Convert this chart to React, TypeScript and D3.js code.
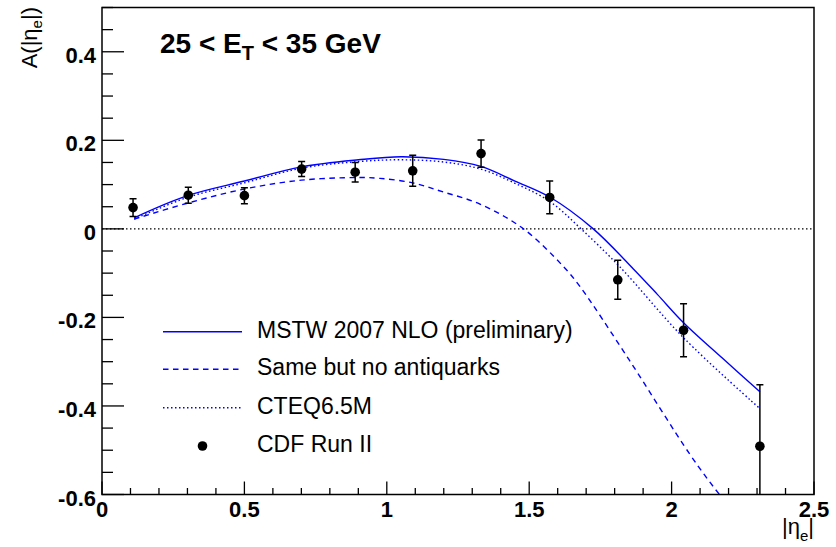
import React from 'react';
import * as d3 from 'd3';

const W = 836;
const H = 547;
const FRAME = { left: 102, right: 814, top: 7.5, bottom: 494.5 };
const FONT = "'Liberation Sans', Arial, Helvetica, sans-serif";

// CDF Run II electron charge asymmetry
const cdfEta = [0.109, 0.303, 0.5, 0.701, 0.889, 1.091, 1.331, 1.572, 1.811, 2.042, 2.31];
const cdfAsym = [0.048, 0.076, 0.075, 0.135, 0.128, 0.131, 0.17, 0.071, -0.115, -0.229, -0.491];
const cdfErr = [0.02, 0.018, 0.018, 0.017, 0.022, 0.035, 0.031, 0.037, 0.044, 0.06, 0.139];

// MSTW 2007 NLO prediction
const mstwEta = [0.113, 0.3, 0.5, 0.7, 0.9, 1.05, 1.2, 1.33, 1.45, 1.572, 1.725, 1.865, 1.95, 2.042, 2.18, 2.31];
const mstwAsym = [0.025, 0.075, 0.108, 0.14, 0.156, 0.163, 0.157, 0.141, 0.108, 0.072, 0.0, -0.09, -0.148, -0.212, -0.293, -0.368];

// Same, without antiquarks
const noAqEta = [0.113, 0.3, 0.5, 0.7, 0.9, 0.976, 1.09, 1.2, 1.327, 1.48, 1.62, 1.678, 1.85, 2.065, 2.168, 2.31];
const noAqAsym = [0.022, 0.058, 0.09, 0.11, 0.116, 0.114, 0.104, 0.083, 0.056, 0.0, -0.085, -0.13, -0.295, -0.51, -0.6, -0.71];

// CTEQ6.5M prediction
const cteqEta = [0.113, 0.3, 0.5, 0.7, 0.9, 1.05, 1.2, 1.33, 1.45, 1.572, 1.682, 1.82, 2.042, 2.31];
const cteqAsym = [0.022, 0.071, 0.104, 0.137, 0.152, 0.156, 0.151, 0.135, 0.103, 0.062, 0.0, -0.087, -0.246, -0.406];

const xMajor = [0, 0.5, 1, 1.5, 2, 2.5];
const xMajorLabels = ['0', '0.5', '1', '1.5', '2', '2.5'];
const yMajor = [-0.6, -0.4, -0.2, 0, 0.2, 0.4];
const yMajorLabels = ['-0.6', '-0.4', '-0.2', '0', '0.2', '0.4'];

const legendLabels = ['MSTW 2007 NLO (preliminary)', 'Same but no antiquarks', 'CTEQ6.5M', 'CDF Run II'];

const BLUE = '#0000ff';

export default function App() {
  const x = d3.scaleLinear().domain([0, 2.5]).range([FRAME.left, FRAME.right]);
  const y = d3.scaleLinear().domain([-0.6, 0.5]).range([FRAME.bottom, FRAME.top]);

  const lineGen = d3
    .line<[number, number]>()
    .x((d) => x(d[0]))
    .y((d) => y(d[1]))
    .curve(d3.curveCatmullRom.alpha(0.5));

  const zip = (a: number[], b: number[]) => a.map((v, i) => [v, b[i]] as [number, number]);

  const xMinor = d3.range(0, 2.5001, 0.1).filter((v) => Math.abs(v / 0.5 - Math.round(v / 0.5)) > 1e-6);
  const yMinor = d3.range(-0.6, 0.5001, 0.05).filter((v) => Math.abs(v / 0.2 - Math.round(v / 0.2)) > 1e-6);

  const legendRows = [331.7, 369.3, 407.7, 446];
  const legX0 = 163;
  const legX1 = 242;
  const legTextX = 257;

  return (
    <svg
      width={W}
      height={H}
      viewBox={`0 0 ${W} ${H}`}
      style={{ position: 'absolute', left: 0, top: 0, background: '#fff' }}
      fontFamily={FONT}
    >
      <defs>
        <clipPath id="frameClip">
          <rect x={FRAME.left} y={FRAME.top} width={FRAME.right - FRAME.left} height={FRAME.bottom - FRAME.top} />
        </clipPath>
      </defs>
      <rect x={0} y={0} width={W} height={H} fill="#fff" />

      {/* zero reference line */}
      <line
        x1={FRAME.left}
        x2={FRAME.right}
        y1={y(0)}
        y2={y(0)}
        stroke="#000"
        strokeWidth={1.3}
        strokeDasharray="1.5,2.5"
      />

      <g clipPath="url(#frameClip)" fill="none" stroke={BLUE}>
        <path d={lineGen(zip(mstwEta, mstwAsym)) || ''} strokeWidth={1.4} />
        <path d={lineGen(zip(noAqEta, noAqAsym)) || ''} strokeWidth={1.4} strokeDasharray="5.5,4.5" />
        <path d={lineGen(zip(cteqEta, cteqAsym)) || ''} strokeWidth={1.4} strokeDasharray="1.5,2.5" />
      </g>

      {/* data points with error bars */}
      <g clipPath="url(#frameClip)">
        {cdfEta.map((e, i) => {
          const cx = x(e);
          const yHi = y(cdfAsym[i] + cdfErr[i]);
          const yLo = y(cdfAsym[i] - cdfErr[i]);
          return (
            <g key={i} stroke="#000" strokeWidth={1.5}>
              <line x1={cx} x2={cx} y1={yHi} y2={yLo} />
              <line x1={cx - 3.5} x2={cx + 3.5} y1={yHi} y2={yHi} />
              <line x1={cx - 3.5} x2={cx + 3.5} y1={yLo} y2={yLo} />
              <circle cx={cx} cy={y(cdfAsym[i])} r={4.8} fill="#000" stroke="none" />
            </g>
          );
        })}
      </g>

      {/* frame */}
      <rect
        x={FRAME.left}
        y={FRAME.top}
        width={FRAME.right - FRAME.left}
        height={FRAME.bottom - FRAME.top}
        fill="none"
        stroke="#000"
        strokeWidth={1.5}
      />

      {/* axis ticks */}
      <g stroke="#000" strokeWidth={1.3}>
        {xMajor.map((v) => (
          <line key={'xM' + v} x1={x(v)} x2={x(v)} y1={FRAME.bottom} y2={FRAME.bottom - 13} />
        ))}
        {xMinor.map((v) => (
          <line key={'xm' + v} x1={x(v)} x2={x(v)} y1={FRAME.bottom} y2={FRAME.bottom - 6.5} />
        ))}
        {yMajor.map((v) => (
          <line key={'yM' + v} x1={FRAME.left} x2={FRAME.left + 22} y1={y(v)} y2={y(v)} />
        ))}
        {yMinor.map((v) => (
          <line key={'ym' + v} x1={FRAME.left} x2={FRAME.left + 11} y1={y(v)} y2={y(v)} />
        ))}
      </g>

      {/* tick labels */}
      <g fontWeight="bold" fontSize={22} fill="#000">
        {xMajor.map((v, i) => (
          <text key={'xl' + v} x={x(v)} y={517} textAnchor="middle">
            {xMajorLabels[i]}
          </text>
        ))}
        {yMajor.map((v, i) => (
          <text key={'yl' + v} x={96} y={y(v) + 11} textAnchor="end">
            {yMajorLabels[i]}
          </text>
        ))}
      </g>

      {/* axis titles */}
      <text x={814} y={534} textAnchor="end" fontSize={22} fill="#000">
        |η<tspan fontSize={15} dy={7}>e</tspan>
        <tspan dy={-7}>|</tspan>
      </text>
      <text transform="translate(37,7) rotate(-90)" textAnchor="end" fontSize={22} fill="#000">
        A(|η<tspan fontSize={15} dy={5}>e</tspan>
        <tspan dy={-5}>|)</tspan>
      </text>

      {/* kinematic range label */}
      <text x={160} y={52.7} fontSize={28} fontWeight="bold" fill="#000">
        25 &lt; E<tspan fontSize={20} dy={7}>T</tspan>
        <tspan dy={-7}> &lt; 35 GeV</tspan>
      </text>

      {/* legend */}
      <g>
        <line x1={legX0} x2={legX1} y1={legendRows[0]} y2={legendRows[0]} stroke={BLUE} strokeWidth={1.4} />
        <line
          x1={legX0}
          x2={legX1}
          y1={legendRows[1]}
          y2={legendRows[1]}
          stroke={BLUE}
          strokeWidth={1.4}
          strokeDasharray="5.5,4.5"
        />
        <line
          x1={legX0}
          x2={legX1}
          y1={legendRows[2]}
          y2={legendRows[2]}
          stroke={BLUE}
          strokeWidth={1.4}
          strokeDasharray="1.5,2.5"
        />
        <circle cx={(legX0 + legX1) / 2} cy={legendRows[3]} r={4.8} fill="#000" />
        {legendLabels.map((t, i) => (
          <text key={t} x={legTextX} y={legendRows[i] + 6} fontSize={23} fill="#000">
            {t}
          </text>
        ))}
      </g>
    </svg>
  );
}
